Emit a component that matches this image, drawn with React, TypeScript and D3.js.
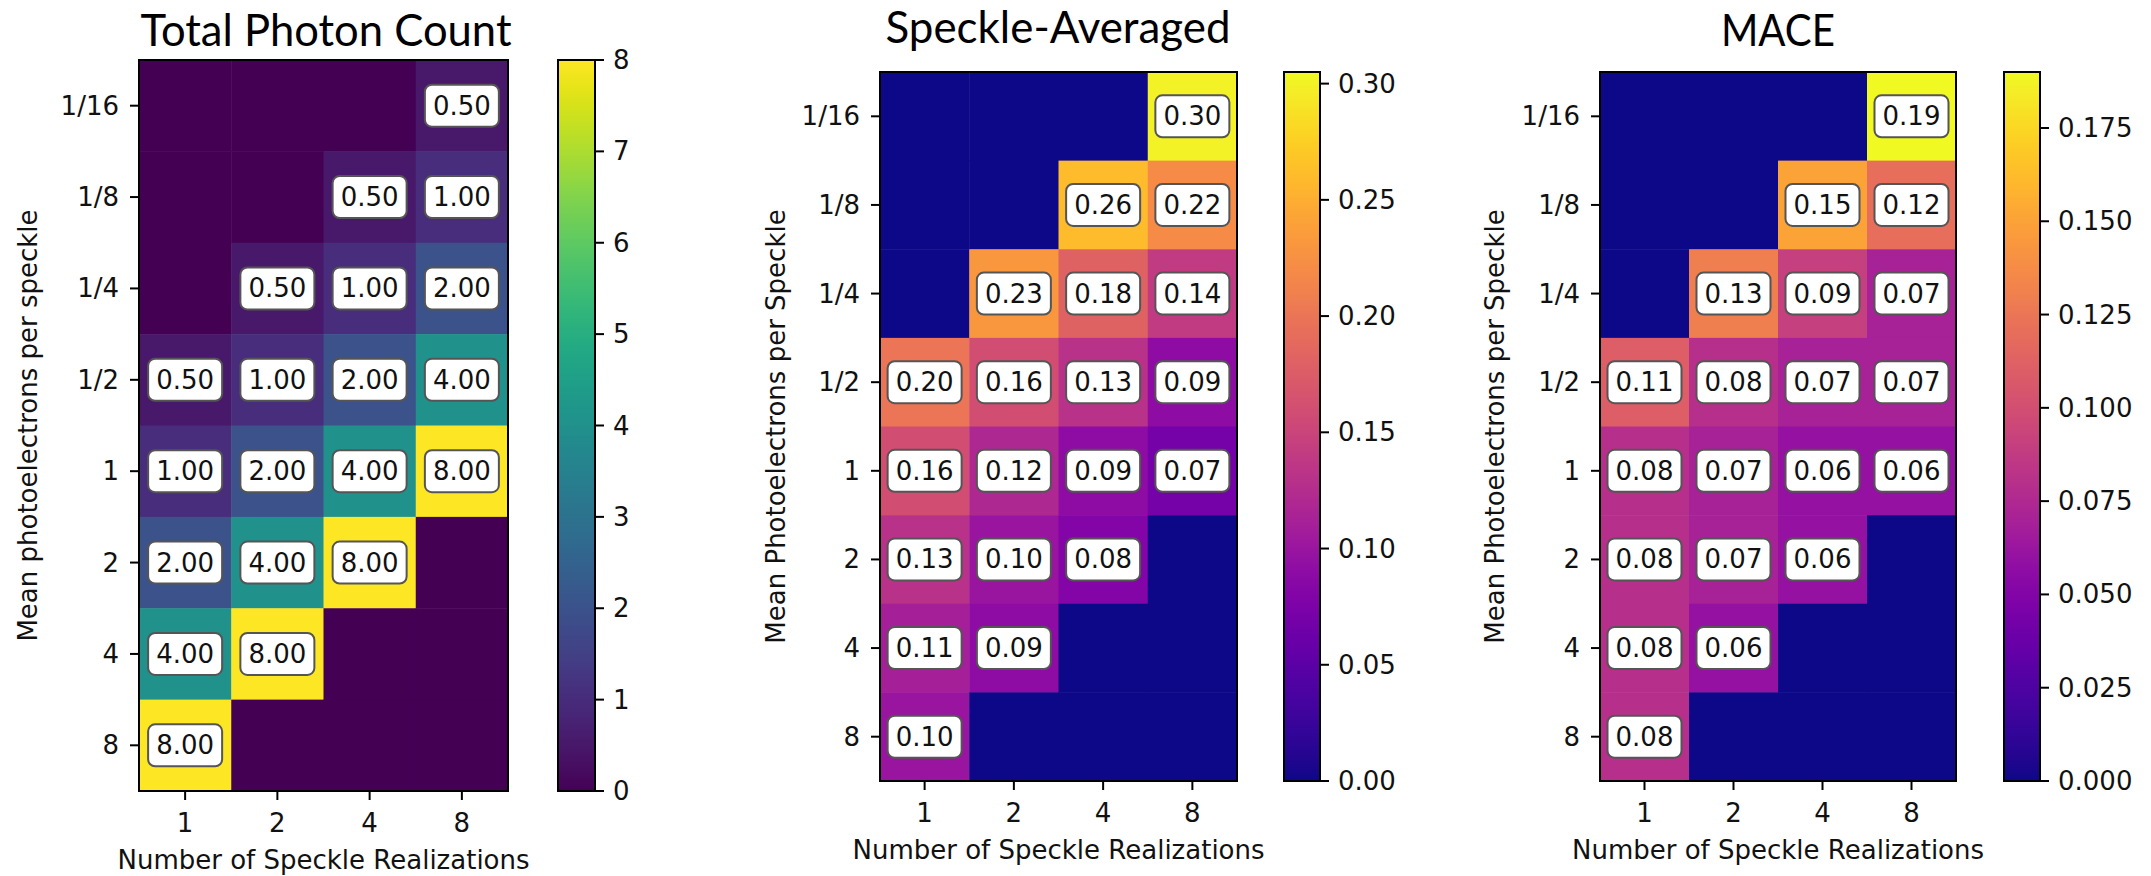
import * as d3 from "d3";

// rows: mean photoelectrons per speckle, cols: number of speckle realizations
const rowLabels = ["1/16", "1/8", "1/4", "1/2", "1", "2", "4", "8"];
const colLabels = ["1", "2", "4", "8"];

// null = empty cell (drawn with the lowest colour, no label)
const photonCount = [
  [null, null, null, 0.5],
  [null, null, 0.5, 1.0],
  [null, 0.5, 1.0, 2.0],
  [0.5, 1.0, 2.0, 4.0],
  [1.0, 2.0, 4.0, 8.0],
  [2.0, 4.0, 8.0, null],
  [4.0, 8.0, null, null],
  [8.0, null, null, null],
];

const speckleAveraged = [
  [null, null, null, 0.30],
  [null, null, 0.26, 0.22],
  [null, 0.23, 0.18, 0.14],
  [0.20, 0.16, 0.13, 0.09],
  [0.16, 0.12, 0.09, 0.07],
  [0.13, 0.10, 0.08, null],
  [0.11, 0.09, null, null],
  [0.10, null, null, null],
];

const mace = [
  [null, null, null, 0.19],
  [null, null, 0.15, 0.12],
  [null, 0.13, 0.09, 0.07],
  [0.11, 0.08, 0.07, 0.07],
  [0.08, 0.07, 0.06, 0.06],
  [0.08, 0.07, 0.06, null],
  [0.08, 0.06, null, null],
  [0.08, null, null, null],
];

const photonTicks = [0, 1, 2, 3, 4, 5, 6, 7, 8];
const speckleTicks = [0, 0.05, 0.1, 0.15, 0.2, 0.25, 0.3];
const maceTicks = [0, 0.025, 0.05, 0.075, 0.1, 0.125, 0.15, 0.175];

const TICK_FONT = "'DejaVu Sans', sans-serif";
const TITLE_FONT = "Lato, 'Open Sans', sans-serif";
const FS = 26;

type Panel = {
  id: string;
  title: string;
  titleX: number;
  titleY: number;
  titleLen: number;
  ylabel: string;
  ylabelX: number;
  values: (number | null)[][];
  interp: (t: number) => string;
  vmax: number;
  ticks: number[];
  tickFmt: (d: number) => string;
  left: number;
  right: number;
  top: number;
  bottom: number;
  cbLeft: number;
  cbRight: number;
};

const panels: Panel[] = [
  {
    id: "p1", title: "Total Photon Count", titleX: 326, titleY: 46, titleLen: 371,
    ylabel: "Mean photoelectrons per speckle", ylabelX: 28,
    values: photonCount, interp: d3.interpolateViridis, vmax: 8,
    ticks: photonTicks, tickFmt: d3.format("d"),
    left: 139, right: 508, top: 60, bottom: 791, cbLeft: 558, cbRight: 595,
  },
  {
    id: "p2", title: "Speckle-Averaged", titleX: 1058, titleY: 43, titleLen: 345,
    ylabel: "Mean Photoelectrons per Speckle", ylabelX: 776,
    values: speckleAveraged, interp: d3.interpolatePlasma, vmax: 0.305,
    ticks: speckleTicks, tickFmt: d3.format(".2f"),
    left: 880, right: 1237, top: 72, bottom: 781, cbLeft: 1284, cbRight: 1320,
  },
  {
    id: "p3", title: "MACE", titleX: 1778, titleY: 46, titleLen: 114,
    ylabel: "Mean Photoelectrons per Speckle", ylabelX: 1495,
    values: mace, interp: d3.interpolatePlasma, vmax: 0.19,
    ticks: maceTicks, tickFmt: d3.format(".3f"),
    left: 1600, right: 1956, top: 72, bottom: 781, cbLeft: 2004, cbRight: 2040,
  },
];

function HeatPanel({ p }: { p: Panel }) {
  const x = d3.scaleBand<string>().domain(colLabels).range([p.left, p.right]);
  const y = d3.scaleBand<string>().domain(rowLabels).range([p.top, p.bottom]);
  const color = d3.scaleSequential(p.interp).domain([0, p.vmax]);
  const cb = d3.scaleLinear().domain([0, p.vmax]).range([p.bottom, p.top]);
  const stops = d3.range(0, 1.0001, 0.02);
  const fmt = d3.format(".2f");

  return (
    <g>
      <defs>
        <linearGradient id={`grad-${p.id}`} x1="0" y1="1" x2="0" y2="0">
          {stops.map((t) => (
            <stop key={t} offset={t} stopColor={p.interp(t)} />
          ))}
        </linearGradient>
      </defs>

      {/* cells */}
      {p.values.map((row, i) =>
        row.map((v, j) => (
          <rect
            key={`c${i}-${j}`}
            x={x(colLabels[j])}
            y={y(rowLabels[i])}
            width={x.bandwidth() + 0.5}
            height={y.bandwidth() + 0.5}
            fill={color(v ?? 0)}
          />
        ))
      )}

      {/* labels */}
      {p.values.map((row, i) =>
        row.map((v, j) => {
          if (v === null) return null;
          const cx = (x(colLabels[j]) as number) + x.bandwidth() / 2;
          const cy = (y(rowLabels[i]) as number) + y.bandwidth() / 2;
          return (
            <g key={`l${i}-${j}`}>
              <rect x={cx - 37} y={cy - 21} width={74} height={42} rx={7}
                fill="#fff" stroke="#555" strokeWidth={2} />
              <text x={cx} y={cy} textAnchor="middle" dominantBaseline="central"
                fontFamily={TICK_FONT} fontSize={FS} fill="#111">{fmt(v)}</text>
            </g>
          );
        })
      )}

      <rect x={p.left} y={p.top} width={p.right - p.left} height={p.bottom - p.top}
        fill="none" stroke="#000" strokeWidth={2} />

      {/* y ticks */}
      {rowLabels.map((r) => {
        const cy = (y(r) as number) + y.bandwidth() / 2;
        return (
          <g key={r}>
            <line x1={p.left - 9} x2={p.left} y1={cy} y2={cy} stroke="#000" strokeWidth={2} />
            <text x={p.left - 20} y={cy} textAnchor="end" dominantBaseline="central"
              fontFamily={TICK_FONT} fontSize={FS} fill="#111">{r}</text>
          </g>
        );
      })}

      {/* x ticks */}
      {colLabels.map((c) => {
        const cx = (x(c) as number) + x.bandwidth() / 2;
        return (
          <g key={c}>
            <line x1={cx} x2={cx} y1={p.bottom} y2={p.bottom + 9} stroke="#000" strokeWidth={2} />
            <text x={cx} y={p.bottom + 41} textAnchor="middle"
              fontFamily={TICK_FONT} fontSize={FS} fill="#111">{c}</text>
          </g>
        );
      })}

      <text x={(p.left + p.right) / 2} y={p.bottom + 78} textAnchor="middle"
        fontFamily={TICK_FONT} fontSize={FS} fill="#111">Number of Speckle Realizations</text>

      <text transform={`translate(${p.ylabelX},${(p.top + p.bottom) / 2}) rotate(-90)`}
        textAnchor="middle" dominantBaseline="central"
        fontFamily={TICK_FONT} fontSize={FS} fill="#111">{p.ylabel}</text>

      <text x={p.titleX} y={p.titleY} textAnchor="middle" fontFamily={TITLE_FONT}
        fontSize={44} fill="#000" textLength={p.titleLen} lengthAdjust="spacingAndGlyphs">{p.title}</text>

      {/* colorbar */}
      <rect x={p.cbLeft} y={p.top} width={p.cbRight - p.cbLeft} height={p.bottom - p.top}
        fill={`url(#grad-${p.id})`} stroke="#000" strokeWidth={2} />
      {p.ticks.map((t) => (
        <g key={t}>
          <line x1={p.cbRight} x2={p.cbRight + 9} y1={cb(t)} y2={cb(t)} stroke="#000" strokeWidth={2} />
          <text x={p.cbRight + 18} y={cb(t)} dominantBaseline="central"
            fontFamily={TICK_FONT} fontSize={FS} fill="#111">{p.tickFmt(t)}</text>
        </g>
      ))}
    </g>
  );
}

export default function App() {
  return (
    <>
      <style>{"body{margin:0}"}</style>
      <svg width={2151} height={876} style={{ display: "block", background: "#fff" }}>
        {panels.map((p) => (
          <HeatPanel key={p.id} p={p} />
        ))}
      </svg>
    </>
  );
}
